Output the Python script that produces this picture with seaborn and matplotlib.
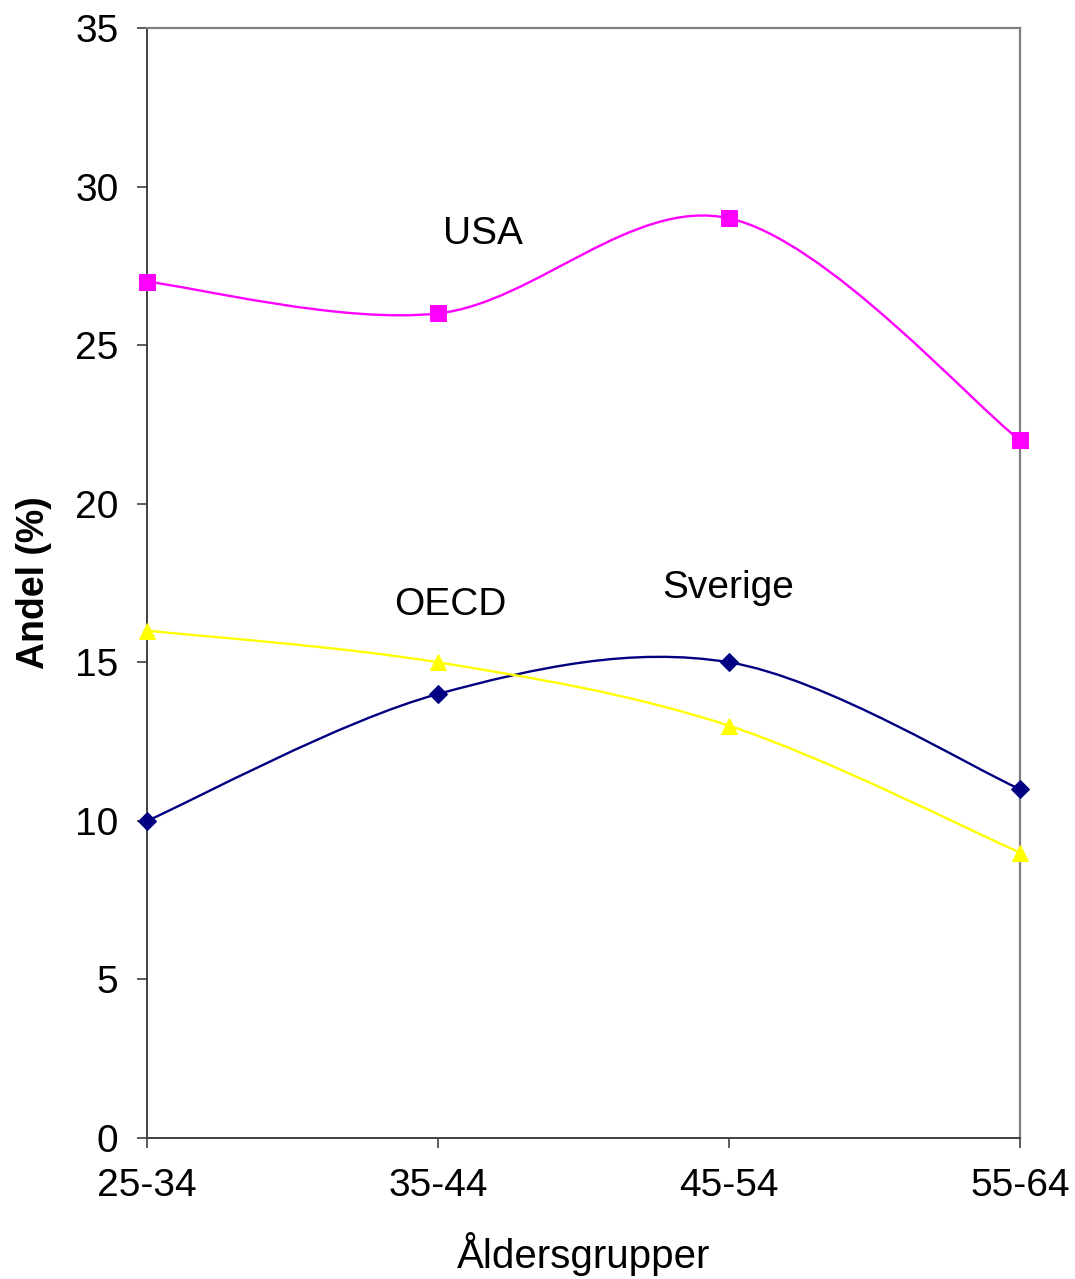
import numpy as np
import pandas as pd
import matplotlib.pyplot as plt
import seaborn as sns
from matplotlib.path import Path
from matplotlib.patches import PathPatch

# Data
aldersgrupper = ["25-34", "35-44", "45-54", "55-64"]
usa = [27, 26, 29, 22]
sverige = [10, 14, 15, 11]
oecd = [16, 15, 13, 9]


def excel_smooth_path(xs, ys):
    # Bezier path of the Excel-style smoothed line through the points
    pts = np.column_stack([xs, ys]).astype(float)
    n = len(pts)
    verts = [pts[0]]
    codes = [Path.MOVETO]
    for i in range(n - 1):
        p0 = pts[max(i - 1, 0)]
        p1 = pts[i]
        p2 = pts[i + 1]
        p3 = pts[min(i + 2, n - 1)]
        c1 = p1 + (p2 - p0) / 6.0
        c2 = p2 - (p3 - p1) / 6.0
        verts += [c1, c2, p2]
        codes += [Path.CURVE4] * 3
    return Path(verts, codes)


sns.set_theme(style="white")
plt.rcParams['font.family'] = ['Liberation Sans', 'DejaVu Sans']
plt.rcParams['text.color'] = 'black'
plt.rcParams['axes.labelcolor'] = 'black'
plt.rcParams['xtick.color'] = 'black'
plt.rcParams['ytick.color'] = 'black'

df = pd.DataFrame({
    "x": list(range(len(aldersgrupper))) * 3,
    "Andel": usa + sverige + oecd,
    "Serie": ["USA"] * 4 + ["Sverige"] * 4 + ["OECD"] * 4,
})

fig = plt.figure(figsize=(10.75, 12.79), dpi=100)
ax = fig.add_axes([147 / 1075, 1 - 1138 / 1279, (1020 - 147) / 1075, (1138 - 28) / 1279])

farger = {"USA": "#FF00FF", "Sverige": "#000080", "OECD": "#FFFF00"}
markorer = {"USA": "s", "Sverige": "D", "OECD": "^"}
storlek = {"USA": 11, "Sverige": 9, "OECD": 12}

for serie in ["USA", "Sverige", "OECD"]:
    d = df[df["Serie"] == serie]
    ax.add_patch(PathPatch(excel_smooth_path(d["x"].values, d["Andel"].values),
                           facecolor="none", edgecolor=farger[serie], lw=1.7,
                           zorder=2))
    sns.lineplot(data=d, x="x", y="Andel", ax=ax, linestyle="none",
                 marker=markorer[serie], markersize=storlek[serie],
                 color=farger[serie], markeredgecolor=farger[serie],
                 zorder=3, legend=False, clip_on=False)

ax.set_xlim(0, 3)
ax.set_ylim(0, 35)
ax.set_xticks(range(len(aldersgrupper)))
ax.set_xticklabels(aldersgrupper)
ax.set_yticks(range(0, 36, 5))

ax.tick_params(axis="both", which="major", labelsize=28, direction="out",
               length=7.5, width=1.2, color="#404040", labelcolor="black")
ax.tick_params(axis="x", pad=14, bottom=True)
ax.tick_params(axis="y", pad=13, left=True)

for side in ["left", "bottom"]:
    ax.spines[side].set_color("#404040")
    ax.spines[side].set_linewidth(1.4)
for side in ["top", "right"]:
    ax.spines[side].set_color("#808080")
    ax.spines[side].set_linewidth(1.6)

ax.set_xlabel("Åldersgrupper", fontsize=29, labelpad=20, color="black")
ax.set_ylabel("Andel (%)", fontsize=27, fontweight="bold", labelpad=17,
              color="black")

ax.text(1.155, 28.5, "USA", fontsize=28, ha="center", va="center", color="black")
ax.text(1.041, 16.8, "OECD", fontsize=28, ha="center", va="center", color="black")
ax.text(1.997, 17.35, "Sverige", fontsize=28, ha="center", va="center", color="black")

plt.savefig("out.png", dpi=100)
